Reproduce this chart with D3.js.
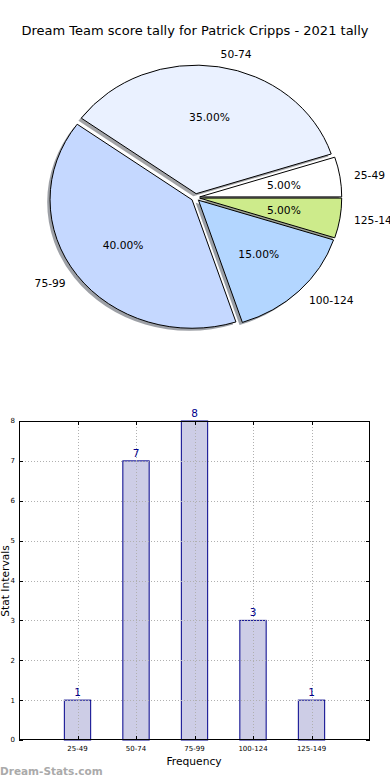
<!DOCTYPE html>
<html><head><meta charset="utf-8">
<script src="https://cdn.jsdelivr.net/npm/d3@7"></script>
<style>body{margin:0;background:#fff}svg{display:block;font-family:"DejaVu Sans",sans-serif}</style>
</head><body>
<svg id="c" width="390" height="780"></svg>
<script>
const title = "Dream Team score tally for Patrick Cripps - 2021 tally";
const categories = ["25-49","50-74","75-99","100-124","125-149"];
const counts = [1,7,8,3,1];
const pieColors = ["#ffffff","#eaf1ff","#c5d8ff","#b3d6ff","#cdeb8b"];
const yTicks = [0,1,2,3,4,5,6,7,8];

const svg = d3.select("#c");
svg.append("rect").attr("width",390).attr("height",780).attr("fill","#fff");

svg.append("text").attr("x",195).attr("y",35).attr("text-anchor","middle")
  .attr("font-size",13).attr("fill","#000").text(title);

// ---- Pie ----
const cx = 195.5, cy = 197.5, rx = 142, ry = 128.5, explode = 0.03;
const total = d3.sum(counts);
const pie = d3.pie().sort(null).startAngle(Math.PI/2).endAngle(Math.PI/2 - 2*Math.PI);
const arcs = pie(counts);
const arc = d3.arc().innerRadius(0).outerRadius(1);
const g = svg.append("g");
function off(d, k){
  const m = (d.startAngle + d.endAngle)/2;
  return [Math.sin(m)*k, -Math.cos(m)*k];
}
// shadows first
arcs.forEach((d,i)=>{
  const [ux,uy] = off(d, explode);
  const c = d3.rgb(pieColors[i]);
  const sc = d3.rgb(c.r*0.3, c.g*0.3, c.b*0.3);
  g.append("path").attr("d", arc(d))
    .attr("transform",`translate(${cx+ux*rx-0.02*rx},${cy+uy*ry+0.02*ry}) scale(${rx},${ry})`)
    .attr("fill", sc).attr("fill-opacity",0.5).attr("stroke","none");
});
arcs.forEach((d,i)=>{
  const [ux,uy] = off(d, explode);
  g.append("path").attr("d", arc(d))
    .attr("transform",`translate(${cx+ux*rx},${cy+uy*ry}) scale(${rx},${ry})`)
    .attr("fill", pieColors[i]).attr("stroke","#000").attr("stroke-width",1)
    .attr("vector-effect","non-scaling-stroke").attr("stroke-linejoin","round");
});
arcs.forEach((d,i)=>{
  const [lx,ly] = off(d, 1.1 + explode);
  const tx = cx + lx*rx, ty = cy + ly*ry;
  g.append("text").attr("x",tx).attr("y",ty).attr("dy","0.35em")
    .attr("text-anchor", lx > 0 ? "start" : "end")
    .attr("font-size",10.7).text(categories[i]);
  const [px,py] = off(d, 0.6 + explode);
  g.append("text").attr("x",cx+px*rx).attr("y",cy+py*ry).attr("dy","0.35em")
    .attr("text-anchor","middle").attr("font-size",10.7)
    .text((counts[i]/total*100).toFixed(2)+"%");
});

// ---- Bar chart ----
const L = 19, R = 370, T = 421, B = 740;
const x = d3.scaleLinear().domain([-1, categories.length]).range([L, R]);
const y = d3.scaleLinear().domain([0, 8]).range([B, T]);
const bw = 0.45;
const bg = svg.append("g");
bg.selectAll("rect.bar").data(counts).join("rect").attr("class","bar")
  .attr("x",(d,i)=>x(i-bw/2)).attr("width",x(bw)-x(0))
  .attr("y",d=>y(d)).attr("height",d=>y(0)-y(d))
  .attr("fill","#cdcde6").attr("stroke","#00008b").attr("stroke-width",1);
// grid
const gg = bg.append("g").attr("stroke","#b0b0b0").attr("stroke-dasharray","1,2").attr("stroke-width",1);
yTicks.slice(1,-1).forEach(t=>gg.append("line").attr("x1",L).attr("x2",R).attr("y1",Math.round(y(t))+0.5).attr("y2",Math.round(y(t))+0.5));
categories.forEach((c,i)=>gg.append("line").attr("x1",Math.round(x(i))+0.5).attr("x2",Math.round(x(i))+0.5).attr("y1",T).attr("y2",B));
// frame
bg.append("rect").attr("x",L+0.5).attr("y",T+0.5).attr("width",R-L-1).attr("height",B-T-1)
  .attr("fill","none").attr("stroke","#000").attr("stroke-width",1);
// ticks
const tk = bg.append("g").attr("stroke","#000").attr("stroke-width",1);
yTicks.forEach(t=>{
  const yy = Math.round(y(t))+0.5;
  tk.append("line").attr("x1",L).attr("x2",L+4).attr("y1",yy).attr("y2",yy);
  tk.append("line").attr("x1",R-4).attr("x2",R).attr("y1",yy).attr("y2",yy);
  bg.append("text").attr("x",L-4).attr("y",y(t)).attr("dy","0.35em").attr("text-anchor","end")
    .attr("font-size",7).text(t);
});
categories.forEach((c,i)=>{
  const xx = Math.round(x(i))+0.5;
  tk.append("line").attr("x1",xx).attr("x2",xx).attr("y1",B).attr("y2",B-4);
  tk.append("line").attr("x1",xx).attr("x2",xx).attr("y1",T).attr("y2",T+4);
  bg.append("text").attr("x",x(i)).attr("y",B+11).attr("text-anchor","middle")
    .attr("font-size",7).text(c);
});
// bar labels
bg.selectAll("text.val").data(counts).join("text").attr("class","val")
  .attr("x",(d,i)=>x(i)).attr("y",d=>y(d)-4).attr("text-anchor","middle")
  .attr("font-size",10.5).attr("fill","#00008b").text(d=>d);
// axis labels
bg.append("text").attr("x",194).attr("y",765).attr("text-anchor","middle").attr("font-size",10.7).text("Frequency");
bg.append("text").attr("transform","translate(9,581) rotate(-90)").attr("text-anchor","middle")
  .attr("font-size",10.7).text("Stat Intervals");
// watermark
svg.append("text").attr("x",0).attr("y",775).attr("font-size",10.5).attr("font-weight","bold")
  .attr("fill","#aaaaaa").text("Dream-Stats.com");
</script>
</body></html>
